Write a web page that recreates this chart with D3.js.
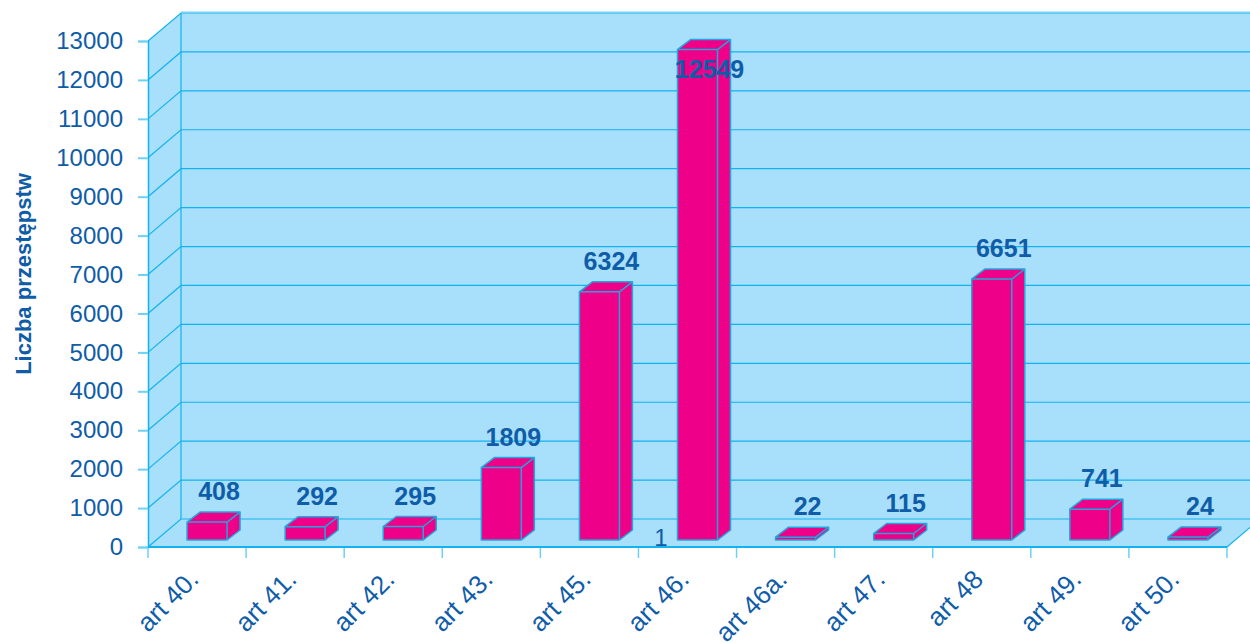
<!DOCTYPE html>
<html><head><meta charset="utf-8">
<script src="https://cdnjs.cloudflare.com/ajax/libs/d3/7.8.5/d3.min.js"></script>
<style>html,body{margin:0;padding:0;background:#fff}svg{display:block;font-family:"Liberation Sans",Arial,sans-serif}</style>
</head><body><div id="c"></div>
<script>
const categories=["art 40.","art 41.","art 42.","art 43.","art 45.","art 46.","art 46a.","art 47.","art 48","art 49.","art 50."];
const values=[408,292,295,1809,6324,12549,22,115,6651,741,24];
const yTicks=d3.range(0,13001,1000);
const axisTitle="Liczba przestępstw";
const strayLabel="1";

const W=1250,H=643;
const LINE="#12b3ee",LIGHT="#6fd0f6",WALL="#a8dffb",BAR="#ee0088",EDGE="#22a5dc",TEXT="#0f5ca8";
const x0=148,x1=1227,yFloor=547,yTop=41,dx=33,dy=-28;
const barW=40,bx=13,by=-10,barBase=540;

const svg=d3.select("#c").append("svg").attr("width",W).attr("height",H);
const x=d3.scaleBand().domain(categories).range([x0,x1]);
const y=d3.scaleLinear().domain([0,13000]).range([yFloor,yTop]);
const yBar=d3.scaleLinear().domain([0,13000]).range([538,32]);

// walls and floor
svg.append("path").attr("fill",WALL).attr("stroke","none")
  .attr("d",`M${x0},${yFloor}L${x0},${yTop}L${x0+dx},${yTop+dy}L${W},${yTop+dy}L${W},${yFloor+dy}L${x1+dx},${yFloor+dy}L${x1},${yFloor}Z`);

// gridlines
const grid=svg.append("g").attr("fill","none").attr("stroke",LINE).attr("stroke-width",1.2);
yTicks.forEach(t=>{
  grid.append("path").attr("d",`M${x0},${y(t)}L${x0+dx},${y(t)+dy}L${W},${y(t)+dy}`);
});
grid.append("path").attr("d",`M${x0+dx},${yTop+dy}L${x0+dx},${yFloor+dy}`);
grid.append("path").attr("d",`M${x1},${yFloor}L${x1+dx},${yFloor+dy}`);
svg.append("line").attr("x1",x0+dx).attr("x2",W).attr("y1",yTop+dy-1).attr("y2",yTop+dy-1).attr("stroke",LIGHT).attr("stroke-width",1);

// axes
const yAxis=svg.append("g").attr("transform",`translate(${x0},0)`)
  .call(d3.axisLeft(y).tickValues(yTicks).tickFormat(d3.format("d")).tickSize(10).tickPadding(15));
yAxis.select(".domain").attr("stroke",LINE).attr("stroke-width",1.5);
yAxis.selectAll(".tick line").attr("stroke",LIGHT).attr("stroke-width",2);
yAxis.selectAll("text").attr("fill",TEXT).attr("font-size",24).attr("font-family",'"Liberation Sans",Arial,sans-serif');

const xAxis=svg.append("g").attr("transform",`translate(0,${yFloor})`)
  .call(d3.axisBottom(x).tickSize(0).tickPadding(0));
xAxis.select(".domain").remove();
xAxis.selectAll("text").attr("fill",TEXT).attr("font-size",26).attr("font-family",'"Liberation Sans",Arial,sans-serif')
  .attr("text-anchor","end").attr("dy",0).attr("y",0)
  .attr("transform","translate(3,34) rotate(-45)");
const boundaries=categories.map(c=>x(c)).concat([x1]);
svg.append("g").selectAll("line").data(boundaries).join("line")
  .attr("x1",d=>d).attr("x2",d=>d).attr("y1",yFloor).attr("y2",yFloor+11)
  .attr("stroke",LIGHT).attr("stroke-width",1.5);
svg.append("line").attr("x1",x0).attr("x2",x1).attr("y1",yFloor).attr("y2",yFloor).attr("stroke",LINE).attr("stroke-width",2);

// bars
const bars=svg.append("g").selectAll("g").data(categories.map((c,i)=>({c,v:values[i]}))).join("g");
const left=d=>x(d.c)+(x.bandwidth()-barW)/2+10;
bars.append("path").attr("fill",BAR).attr("stroke",EDGE).attr("stroke-width",1.5).attr("stroke-linejoin","round")
  .attr("d",d=>{const l=left(d),t=yBar(d.v);
    return `M${l},${t}L${l+bx},${t+by}L${l+barW+bx},${t+by}L${l+barW+bx},${barBase+by}L${l+barW},${barBase}L${l},${barBase}Z`;});
bars.append("path").attr("fill","none").attr("stroke",EDGE).attr("stroke-width",1.5)
  .attr("d",d=>{const l=left(d),t=yBar(d.v);
    return `M${l},${t}L${l+barW},${t}L${l+barW},${barBase}M${l+barW},${t}L${l+barW+bx},${t+by}`;});

// data labels
bars.append("text").text(d=>d.v).attr("fill",TEXT).attr("font-size",25).attr("font-weight","bold")
  .attr("text-anchor","middle").attr("x",d=>left(d)+barW/2+12)
  .attr("y",d=>{const t=yBar(d.v);return t<100?t+28:t-22;});

svg.append("text").text(strayLabel).attr("x",661).attr("y",546).attr("fill",TEXT).attr("font-size",24).attr("text-anchor","middle");
svg.append("text").text(axisTitle).attr("transform","translate(31,274) rotate(-90)").attr("fill",TEXT)
  .attr("font-size",22).attr("font-weight","bold").attr("text-anchor","middle");
</script></body></html>
